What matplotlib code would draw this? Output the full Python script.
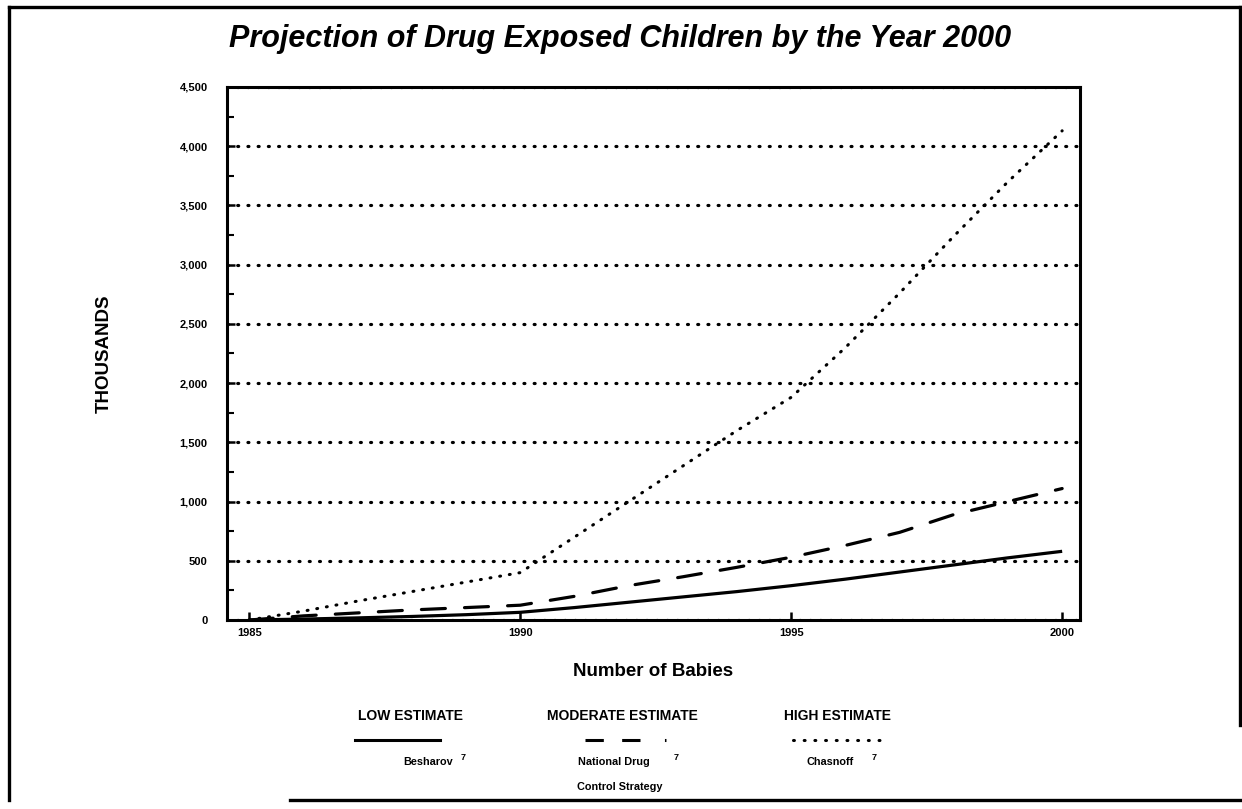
import matplotlib
matplotlib.use("Agg")
import matplotlib.pyplot as plt
from matplotlib.lines import Line2D
from matplotlib.ticker import FuncFormatter, MultipleLocator

# %%
years = [1985, 1986, 1987, 1988, 1989, 1990, 1991, 1992,
         1993, 1994, 1995, 1996, 1997, 1998, 1999, 2000]
low = [0, 8, 18, 30, 45, 65, 105, 150, 195, 240, 290, 345, 405, 465, 525, 580]
moderate = [0, 35, 60, 85, 105, 125, 200, 290, 365, 445, 530, 630, 740, 890, 1000, 1110]
high = [0, 75, 160, 240, 320, 400, 700, 1000, 1300, 1600, 1880, 2300, 2760, 3240, 3700, 4130]

x_ticks = [1985, 1990, 1995, 2000]
y_max = 4500

FONT = "Liberation Sans"
plt.rcParams["font.family"] = [FONT, "DejaVu Sans"]

# %%
fig = plt.figure(figsize=(12.42, 8.09), dpi=100)
ax = fig.add_axes([0.1828, 0.2336, 0.6868, 0.6589])

ax.plot(years, low, color="black", lw=2.3, solid_capstyle="butt")
ax.plot(years, moderate, color="black", lw=2.3, dashes=(7.5, 6), dash_capstyle="round")
ax.plot(years, high, color="black", lw=2.2, dashes=(0.3, 2.9), dash_capstyle="round")

ax.set_xlim(1984.59, 2000.33)
ax.set_ylim(0, y_max)

ax.set_xticks(x_ticks)
ax.set_xticklabels([str(y) for y in x_ticks])
ax.yaxis.set_major_locator(MultipleLocator(500))
ax.yaxis.set_minor_locator(MultipleLocator(250))
ax.yaxis.set_major_formatter(FuncFormatter(lambda v, p: f"{int(v):,}"))

ax.tick_params(axis="both", which="major", direction="in", length=6, width=1.8,
               labelsize=8)
ax.tick_params(axis="x", which="major", pad=6)
ax.tick_params(axis="y", which="major", pad=14)
ax.tick_params(axis="y", which="minor", direction="in", length=5, width=1.5)
for lbl in ax.get_xticklabels() + ax.get_yticklabels():
    lbl.set_fontweight("bold")

ax.grid(axis="y", which="major", color="black", lw=2.3, dashes=(0.3, 2.9),
        dash_capstyle="round")
for sp in ax.spines.values():
    sp.set_linewidth(2.2)

ax.set_xlabel("Number of Babies", fontsize=13.5, fontweight="bold", labelpad=18)
ax.set_ylabel("THOUSANDS", fontsize=13.5, fontweight="bold", labelpad=48)

fig.text(0.499, 0.952, "Projection of Drug Exposed Children by the Year 2000",
         ha="center", va="center", fontsize=22, fontweight="bold", style="italic")

# legend block drawn by hand
def fx(px):
    return px / 1242


def fy(py):
    return 1 - py / 809


legend_cols = [
    ("LOW ESTIMATE", 410, dict(ls="-"), "Besharov", 428, None),
    ("MODERATE ESTIMATE", 622, dict(dashes=(6, 6, 6, 8, 0.5, 8)), "National Drug", 614,
     "Control Strategy"),
    ("HIGH ESTIMATE", 837, dict(dashes=(0.3, 3.2), dash_capstyle="round"), "Chasnoff", 830, None),
]
sample_spans = [(355, 440), (585, 668), (793, 882)]
for (head, hx, style, src, sx, src2), (x0, x1) in zip(legend_cols, sample_spans):
    fig.text(fx(hx), fy(716), head, ha="center", va="center", fontsize=10,
             fontweight="bold")
    fig.add_artist(Line2D([fx(x0), fx(x1)], [fy(740), fy(740)], color="black",
                          lw=2.2, transform=fig.transFigure, **style))
    fig.text(fx(sx), fy(762), src, ha="center", va="center", fontsize=7.8,
             fontweight="bold")
    if src2:
        fig.text(fx(620), fy(787), src2, ha="center", va="center", fontsize=7.8,
                 fontweight="bold")
sups = [463, 676, 874]
for sx in sups:
    fig.text(fx(sx), fy(757), "7", ha="center", va="center", fontsize=6.5,
             fontweight="bold")

# page frame of the scanned sheet
frame = [
    ([9, 1240], [7, 7]),
    ([9, 9], [7, 800]),
    ([1240, 1240], [7, 725]),
    ([290, 1240], [800, 800]),
]
for xs, ys in frame:
    fig.add_artist(Line2D([fx(v) for v in xs], [fy(v) for v in ys], color="black",
                          lw=2.4, transform=fig.transFigure))

fig.savefig("out.png", dpi=100)
